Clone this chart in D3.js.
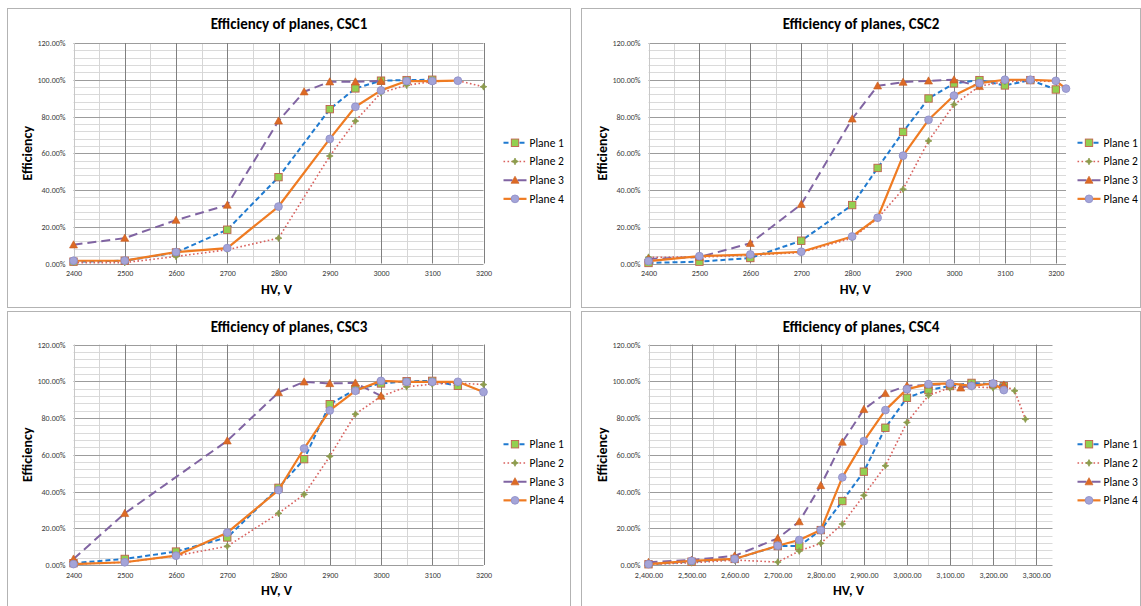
<!DOCTYPE html>
<html>
<head>
<meta charset="utf-8">
<script src="https://cdn.jsdelivr.net/npm/d3@7"></script>
<style>
  html, body { margin: 0; padding: 0; background: #fff; }
  svg { display: block; }
</style>
</head>
<body>
<svg id="chart" width="1141" height="606"></svg>
<script>
// ---- Data: HV settings (V) and plane efficiencies (%) for each chamber ----
const seriesNames = ["Plane 1", "Plane 2", "Plane 3", "Plane 4"];
const yTicks = [0, 20, 40, 60, 80, 100, 120];

const csc1HV     = [2400, 2500, 2600, 2700, 2800, 2850, 2900, 2950, 3000, 3050, 3100, 3150, 3200];
const csc1Plane1 = [1.0, 1.5, 6.0, 18.4, 47.0, null, 84.0, 95.3, 99.5, 99.8, 100.0, null, null];
const csc1Plane2 = [0.5, 0.5, 3.8, 7.5, 13.8, null, 58.5, 77.5, 92.9, 97.0, 99.0, 99.5, 96.2];
const csc1Plane3 = [10.2, 13.8, 23.6, 31.8, 77.6, 93.5, 98.9, 98.9, 99.3, null, null, null, null];
const csc1Plane4 = [1.5, 1.6, 6.2, 8.4, 31.0, null, 67.8, 85.3, 94.2, 99.3, 99.3, 99.5, null];

const csc2HV     = [2400, 2500, 2600, 2700, 2800, 2850, 2900, 2950, 3000, 3050, 3100, 3150, 3200, 3220];
const csc2Plane1 = [0.3, 1.0, 3.0, 12.4, 31.8, 52.0, 71.6, 89.8, 98.0, 99.8, 96.9, 99.8, 94.7, null];
const csc2Plane2 = [3.4, 3.5, 4.5, 6.0, 13.8, 24.6, 40.4, 66.7, 86.5, 96.5, 99.0, 99.5, 99.0, null];
const csc2Plane3 = [2.5, 3.5, 11.0, 32.2, 78.7, 96.7, 98.7, 99.4, 100.0, 96.4, null, null, null, null];
const csc2Plane4 = [1.3, 4.0, 4.9, 6.4, 14.7, 24.9, 58.7, 78.2, 91.4, 98.2, 100.0, 100.0, 99.4, 95.2];

const csc3HV     = [2400, 2500, 2600, 2700, 2800, 2850, 2900, 2950, 3000, 3050, 3100, 3150, 3200];
const csc3Plane1 = [1.0, 3.3, 7.3, 15.0, 42.0, 57.6, 87.5, 95.5, 98.8, 100.0, 100.2, 97.5, null];
const csc3Plane2 = [0.5, 1.5, 5.0, 10.2, 28.1, 38.4, 59.1, 82.1, 91.8, 97.0, 98.4, 99.0, 98.2];
const csc3Plane3 = [3.3, 28.1, null, 67.6, 93.9, 99.7, 98.8, 99.1, 92.0, null, null, null, null];
const csc3Plane4 = [0.5, 1.5, 5.1, 17.6, 40.8, 63.4, 84.1, 94.8, 100.2, 99.7, 99.7, 99.7, 94.2];

const csc4HV     = [2400, 2500, 2600, 2700, 2750, 2800, 2850, 2900, 2950, 3000, 3050, 3100, 3125, 3150, 3200, 3225, 3250, 3275];
const csc4Plane1 = [0.4, 1.8, 3.3, 10.3, 10.3, 19.0, 34.8, 50.8, 74.7, 91.0, 95.2, 97.4, null, 99.1, 98.4, 97.3, null, null];
const csc4Plane2 = [0.3, 1.2, 2.7, 1.6, 7.6, 11.8, 22.3, 37.9, 54.0, 77.6, 92.3, 96.4, null, 97.0, 96.4, 97.9, 94.8, 79.4];
const csc4Plane3 = [1.5, 2.7, 5.0, 14.5, 23.6, 43.3, 66.9, 84.7, 93.4, 97.5, 98.0, 98.5, 96.4, 98.0, 98.5, 98.0, null, null];
const csc4Plane4 = [0.5, 2.2, 3.3, 10.5, 13.6, 19.0, 47.7, 67.4, 84.3, 95.7, 98.4, 98.8, null, 97.5, 98.8, 95.2, null, null];

const chambers = [
  { title: "Efficiency of planes, CSC1", hv: csc1HV, planes: [csc1Plane1, csc1Plane2, csc1Plane3, csc1Plane4], xMax: 3200, fmt: d3.format("d") },
  { title: "Efficiency of planes, CSC2", hv: csc2HV, planes: [csc2Plane1, csc2Plane2, csc2Plane3, csc2Plane4], xMax: 3220, fmt: d3.format("d") },
  { title: "Efficiency of planes, CSC3", hv: csc3HV, planes: [csc3Plane1, csc3Plane2, csc3Plane3, csc3Plane4], xMax: 3200, fmt: d3.format("d") },
  { title: "Efficiency of planes, CSC4", hv: csc4HV, planes: [csc4Plane1, csc4Plane2, csc4Plane3, csc4Plane4], xMax: 3338, fmt: d3.format(",.2f") }
];

// ---- Layout: frame and plot box for each panel ----
const frames = [
  { x0: 7.5,   y0: 8.5,   x1: 570.5,  y1: 307.5, left: 73.5,  right: 483.5,  top: 43,    bottom: 263.5 },
  { x0: 581.5, y0: 8.5,   x1: 1140.5, y1: 307.5, left: 648.5, right: 1066,   top: 43,    bottom: 263.5 },
  { x0: 7.5,   y0: 311.5, x1: 570.5,  y1: 608,   left: 73.5,  right: 483.5,  top: 344.5, bottom: 565 },
  { x0: 581.5, y0: 311.5, x1: 1140.5, y1: 608,   left: 648.5, right: 1052.5, top: 344.5, bottom: 565 }
];

// ---- Series styling ----
const styles = [
  { stroke: "#1f7ad0", width: 2,   dash: "5,3",   marker: "square" },
  { stroke: "#d9605d", width: 1.6, dash: "1.6,2.4", marker: "diamond" },
  { stroke: "#8064a2", width: 2,   dash: "9,5",   marker: "triangle" },
  { stroke: "#ef7b22", width: 2.2, dash: null,    marker: "circle" }
];
const FONT = "Carlito, Lato, 'Open Sans', sans-serif";

const svg = d3.select("#chart");

function drawMarker(g, type, cx, cy) {
  if (type === "square") {
    g.append("rect").attr("x", cx - 3.7).attr("y", cy - 3.7).attr("width", 7.4).attr("height", 7.4)
      .attr("fill", "#92d050").attr("stroke", "#c0604d").attr("stroke-width", 0.9);
  } else if (type === "diamond") {
    g.append("path").attr("transform", `translate(${cx},${cy})`)
      .attr("d", "M0,-3.4 L1.1,-1.1 L3.4,0 L1.1,1.1 L0,3.4 L-1.1,1.1 L-3.4,0 L-1.1,-1.1 Z")
      .attr("fill", "#8c9c4c").attr("stroke", "#8c9c4c").attr("stroke-width", 0.8);
  } else if (type === "triangle") {
    g.append("path").attr("transform", `translate(${cx},${cy})`)
      .attr("d", "M0,-4 L4,3.2 L-4,3.2 Z")
      .attr("fill", "#dd6a25").attr("stroke", "#c85e22").attr("stroke-width", 0.6);
  } else {
    g.append("circle").attr("cx", cx).attr("cy", cy).attr("r", 3.9)
      .attr("fill", "#a4a4d8").attr("stroke", "#8d8dc6").attr("stroke-width", 0.8);
  }
}

chambers.forEach((ch, i) => {
  const f = frames[i];
  const g = svg.append("g");

  // chart frame
  g.append("rect").attr("x", f.x0).attr("y", f.y0)
    .attr("width", f.x1 - f.x0).attr("height", f.y1 - f.y0)
    .attr("fill", "#fff").attr("stroke", "#b3b3b3").attr("stroke-width", 1);

  const x = d3.scaleLinear().domain([2400, ch.xMax]).range([f.left, f.right]);
  const y = d3.scaleLinear().domain([0, 120]).range([f.bottom, f.top]);

  const xMajor = d3.range(2400, ch.xMax + 1, 100);
  const xMinor = d3.range(2450, ch.xMax + 1, 100);
  const yMinor = d3.range(0, 121, 4).filter(v => v % 20 !== 0);

  // minor gridlines
  g.append("g").selectAll("line").data(yMinor).join("line")
    .attr("x1", f.left).attr("x2", f.right)
    .attr("y1", d => Math.round(y(d)) + 0.5).attr("y2", d => Math.round(y(d)) + 0.5)
    .attr("stroke", "#dadada").attr("stroke-width", 1);
  g.append("g").selectAll("line").data(xMinor).join("line")
    .attr("x1", d => Math.round(x(d)) + 0.5).attr("x2", d => Math.round(x(d)) + 0.5)
    .attr("y1", f.top).attr("y2", f.bottom)
    .attr("stroke", "#d6d6d6").attr("stroke-width", 1);

  // major gridlines
  g.append("g").selectAll("line").data(yTicks).join("line")
    .attr("x1", f.left).attr("x2", f.right)
    .attr("y1", d => Math.round(y(d)) + 0.5).attr("y2", d => Math.round(y(d)) + 0.5)
    .attr("stroke", "#9c9c9c").attr("stroke-width", 1);
  g.append("g").selectAll("line").data(xMajor).join("line")
    .attr("x1", d => Math.round(x(d)) + 0.5).attr("x2", d => Math.round(x(d)) + 0.5)
    .attr("y1", f.top).attr("y2", f.bottom)
    .attr("stroke", d => d === 2400 ? "#c8c8c8" : "#808080").attr("stroke-width", 1);

  // axes (labels only)
  const xAxis = g.append("g").attr("transform", `translate(0,${f.bottom})`)
    .call(d3.axisBottom(x).tickValues(xMajor).tickSize(0).tickPadding(7).tickFormat(ch.fmt));
  const yAxis = g.append("g").attr("transform", `translate(${f.left},0)`)
    .call(d3.axisLeft(y).tickValues(yTicks).tickSize(0).tickPadding(8).tickFormat(d => d.toFixed(2) + "%"));
  [xAxis, yAxis].forEach(a => {
    a.select(".domain").remove();
    a.selectAll("text").attr("font-family", FONT).attr("font-size", 8).attr("fill", "#404040");
  });

  // title and axis titles
  g.append("text").attr("x", (f.x0 + f.x1) / 2).attr("y", f.y0 + 20)
    .attr("text-anchor", "middle").attr("font-family", FONT).attr("font-weight", "bold")
    .attr("font-size", 15).attr("fill", "#000").text(ch.title);
  g.append("text").attr("x", (f.left + f.right) / 2 - 2).attr("y", f.bottom + 30)
    .attr("text-anchor", "middle").attr("font-family", FONT).attr("font-weight", "bold")
    .attr("font-size", 14).attr("fill", "#000").text("HV, V");
  g.append("text")
    .attr("transform", `translate(${f.left - 42},${(f.top + f.bottom) / 2}) rotate(-90)`)
    .attr("text-anchor", "middle").attr("font-family", FONT).attr("font-weight", "bold")
    .attr("font-size", 14).attr("fill", "#000").text("Efficiency");

  // series: line then markers
  ch.planes.forEach((vals, s) => {
    const st = styles[s];
    const pts = ch.hv.map((h, k) => ({ h, v: vals[k] })).filter(p => p.v !== null);
    const line = d3.line().x(p => x(p.h)).y(p => y(p.v));
    const path = g.append("path").datum(pts).attr("d", line)
      .attr("fill", "none").attr("stroke", st.stroke).attr("stroke-width", st.width)
      .attr("stroke-linejoin", "round");
    if (st.dash) path.attr("stroke-dasharray", st.dash);
    const mg = g.append("g");
    pts.forEach(p => drawMarker(mg, st.marker, x(p.h), y(p.v)));
  });

  // legend
  const lx = f.x0 + 496;
  const ly0 = (f.top + f.bottom) / 2 - 10.5;
  seriesNames.forEach((name, s) => {
    const st = styles[s];
    const ly = ly0 + s * 18.7;
    const ln = g.append("line").attr("x1", lx).attr("x2", lx + 23).attr("y1", ly).attr("y2", ly)
      .attr("stroke", st.stroke).attr("stroke-width", st.width);
    if (st.dash) ln.attr("stroke-dasharray", st.dash);
    drawMarker(g, st.marker, lx + 11.5, ly);
    g.append("text").attr("x", lx + 26).attr("y", ly + 4)
      .attr("font-family", FONT).attr("font-size", 11.5).attr("fill", "#000").text(name);
  });
});
</script>
</body>
</html>
